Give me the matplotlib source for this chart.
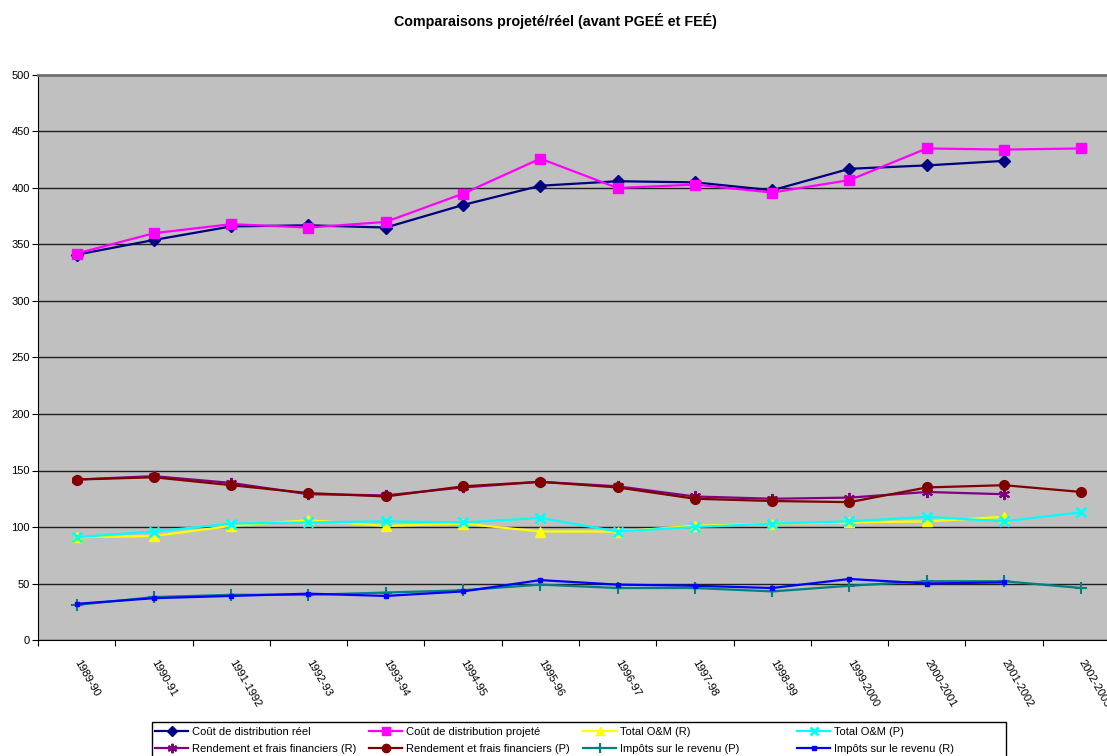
import numpy as np
import matplotlib
matplotlib.use("Agg")
import matplotlib.pyplot as plt
from matplotlib.patches import Rectangle

plt.rcParams['font.family'] = ['Liberation Sans', 'DejaVu Sans']

annees = ['1989-90', '1990-91', '1991-1992', '1992-93', '1993-94', '1994-95',
          '1995-96', '1996-97', '1997-98', '1998-99', '1999-2000', '2000-2001',
          '2001-2002', '2002-2003']

# valeurs par année (None = pas de donnée)
cout_reel = [341, 354, 366, 367, 365, 385, 402, 406, 405, 398, 417, 420, 424, None]
cout_projete = [342, 360, 368, 365, 370, 395, 426, 400, 403, 396, 407, 435, 434, 435]
om_r = [91, 92, 101, 106, 101, 103, 96, 96, 101, 103, 104, 105, 109, None]
om_p = [91, 96, 103, 104, 105, 104, 108, 96, 100, 103, 105, 109, 105, 113]
rend_r = [142, 145, 139, 129, 128, 135, 140, 136, 127, 125, 126, 131, 129, None]
rend_p = [142, 144, 137, 130, 127, 136, 140, 135, 125, 123, 122, 135, 137, 131]
impots_p = [31, 38, 40, 40, 42, 44, 49, 46, 46, 43, 48, 52, 52, 46]
impots_r = [32, 37, 39, 41, 39, 43, 53, 49, 48, 46, 54, 50, 51, None]

series = [
    ('Coût de distribution réel', cout_reel, '#000080', dict(marker='D', ms=6.5)),
    ('Coût de distribution projeté', cout_projete, '#FF00FF', dict(marker='s', ms=7)),
    ('Total O&M (R)', om_r, '#FFFF00', dict(marker='^', ms=7)),
    ('Total O&M (P)', om_p, '#00FFFF', dict(marker='x', ms=7, mew=2)),
    ('Rendement et frais financiers (R)', rend_r, '#800080', dict(marker=(6, 2, 0), ms=8, mew=1.5)),
    ('Rendement et frais financiers (P)', rend_p, '#800000', dict(marker='o', ms=7)),
    ('Impôts sur le revenu (P)', impots_p, '#008080', dict(marker='+', ms=8, mew=1.5)),
    ('Impôts sur le revenu (R)', impots_r, '#0000FF', dict(marker='s', ms=3)),
]

W, H = 1107, 756
fig = plt.figure(figsize=(W / 100, H / 100), dpi=100)
ax = fig.add_axes([38 / W, 1 - 640 / H, 1082 / W, 565 / H])
ax.set_facecolor('#C0C0C0')

x = np.arange(len(annees))
handles = []
for label, vals, col, mk in series:
    y = np.array([np.nan if v is None else v for v in vals], dtype=float)
    h, = ax.plot(x, y, color=col, lw=1.6, label=label, **mk)
    handles.append(h)

ax.set_xlim(-0.5, len(annees) - 0.5)
ax.set_ylim(0, 500)
ax.set_yticks(np.arange(0, 501, 50))
ax.yaxis.grid(True, color='#202020', lw=1)
ax.set_axisbelow(True)

# traits de graduation entre les catégories, étiquettes au centre
ax.set_xticks(np.arange(len(annees) + 1) - 0.5)
ax.set_xticklabels([])
ax.set_xticks(x, minor=True)
ax.set_xticklabels(annees, minor=True, rotation=-60, ha='left', va='center',
                   rotation_mode='anchor', fontsize=8)
ax.tick_params(axis='x', which='minor', length=0, pad=15)
ax.tick_params(axis='x', which='major', length=4, direction='out')
ax.tick_params(axis='y', labelsize=8, length=4, direction='out', pad=2)
ax.spines['top'].set_color('#707070')
ax.spines['top'].set_linewidth(2)
ax.spines['right'].set_color('#707070')
for s in ['left', 'bottom']:
    ax.spines[s].set_color('black')

fig.text(555 / W, 1 - 21 / H, 'Comparaisons projeté/réel (avant PGEÉ et FEÉ)',
         fontsize=10.3, fontweight='bold', ha='center', va='center')

# légende : 4 colonnes de largeur égale, remplies ligne par ligne
fig.patches.append(Rectangle((152 / W, -0.01), (1006 - 152) / W, 1 - 722 / H + 0.01,
                             transform=fig.transFigure, fill=False,
                             edgecolor='black', lw=1, zorder=5))
col_x = [155, 369, 583, 797]
for c in range(4):
    leg = fig.legend([handles[c], handles[c + 4]],
                     [series[c][0], series[c + 4][0]],
                     loc='upper left', bbox_to_anchor=(col_x[c] / W, 1 - 727 / H),
                     frameon=False, fontsize=8, handlelength=3.0,
                     handletextpad=0.3, borderpad=0, borderaxespad=0,
                     labelspacing=0.65, markerscale=0.85)

fig.savefig('out.png', dpi=100)
